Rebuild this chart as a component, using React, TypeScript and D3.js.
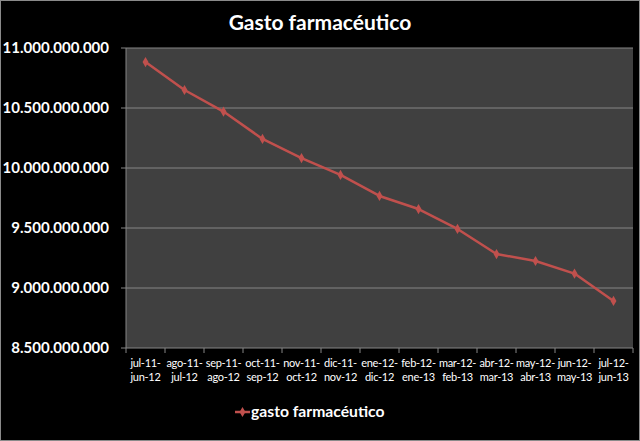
import React from "react";
import * as d3 from "d3";

const categories: string[][] = [
  ["jul-11-", "jun-12"],
  ["ago-11-", "jul-12"],
  ["sep-11-", "ago-12"],
  ["oct-11-", "sep-12"],
  ["nov-11-", "oct-12"],
  ["dic-11-", "nov-12"],
  ["ene-12-", "dic-12"],
  ["feb-12-", "ene-13"],
  ["mar-12-", "feb-13"],
  ["abr-12-", "mar-13"],
  ["may-12-", "abr-13"],
  ["jun-12-", "may-13"],
  ["jul-12-", "jun-13"],
];

const values: number[] = [
  10883000000, 10650000000, 10470000000, 10242000000, 10083000000, 9942000000,
  9767000000, 9658000000, 9492000000, 9283000000, 9225000000, 9120000000, 8892000000,
];

const yTicks: number[] = [8500000000, 9000000000, 9500000000, 10000000000, 10500000000, 11000000000];

const title = "Gasto farmacéutico";
const seriesName = "gasto farmacéutico";

const W = 640;
const H = 441;
const FONT = "Lato, 'Open Sans', sans-serif";
const RED = "#c0504d";

const fmt = (v: number) => d3.format(",")(v).replace(/,/g, ".");

export default function App() {
  const left = 126, right = 633, top = 48, bottom = 348;
  const x = d3.scaleBand<number>().domain(d3.range(categories.length)).range([left, right]);
  const y = d3.scaleLinear().domain([8500000000, 11000000000]).range([bottom, top]);
  const line = d3
    .line<number>()
    .x((_, i) => (x(i) as number) + x.bandwidth() / 2)
    .y((d) => y(d));
  const diamond = d3.symbol().type(d3.symbolDiamond).size(30)();

  return (
    <svg
      width={W}
      height={H}
      style={{ position: "absolute", left: 0, top: 0, display: "block" }}
    >
      <rect x={0} y={0} width={W} height={H} fill="#000" />
      <rect x={0.5} y={0.5} width={W - 1} height={H - 1} fill="none" stroke="#8a8a8a" strokeWidth={1} />
      <text x={320} y={30} textAnchor="middle" fill="#fff" fontFamily={FONT} fontWeight="bold" fontSize={21}>
        {title}
      </text>
      <rect x={left} y={top} width={right - left} height={bottom - top} fill="#404040" />
      {yTicks.map((t) => (
        <g key={t}>
          <line x1={left - 5} x2={right} y1={y(t)} y2={y(t)} stroke="#858585" strokeWidth={1} />
          <text x={109} y={y(t) + 5} textAnchor="end" fill="#fff" fontFamily={FONT} fontWeight="bold" fontSize={15}>
            {fmt(t)}
          </text>
        </g>
      ))}
      <line x1={left} x2={left} y1={top} y2={bottom} stroke="#858585" strokeWidth={1} />
      {d3.range(categories.length + 1).map((i) => {
        const xx = i < categories.length ? (x(i) as number) : right;
        return <line key={i} x1={xx} x2={xx} y1={bottom} y2={bottom + 5} stroke="#858585" strokeWidth={1} />;
      })}
      {categories.map((c, i) => {
        const cx = (x(i) as number) + x.bandwidth() / 2;
        return (
          <text key={i} textAnchor="middle" fill="#fff" fontFamily={FONT} fontSize={11} letterSpacing={-0.3}>
            <tspan x={cx} y={367}>{c[0]}</tspan>
            <tspan x={cx} y={381}>{c[1]}</tspan>
          </text>
        );
      })}
      <path d={line(values) || ""} fill="none" stroke={RED} strokeWidth={2.5} strokeLinejoin="round" />
      {values.map((v, i) => (
        <path
          key={i}
          d={diamond || ""}
          transform={`translate(${(x(i) as number) + x.bandwidth() / 2},${y(v)})`}
          fill={RED}
        />
      ))}
      <line x1={235} x2={250} y1={412} y2={412} stroke={RED} strokeWidth={2.5} />
      <path d={diamond || ""} transform="translate(242.5,412)" fill={RED} />
      <text x={251} y={417} fill="#fff" fontFamily={FONT} fontWeight="bold" fontSize={15.7}>
        {seriesName}
      </text>
    </svg>
  );
}
